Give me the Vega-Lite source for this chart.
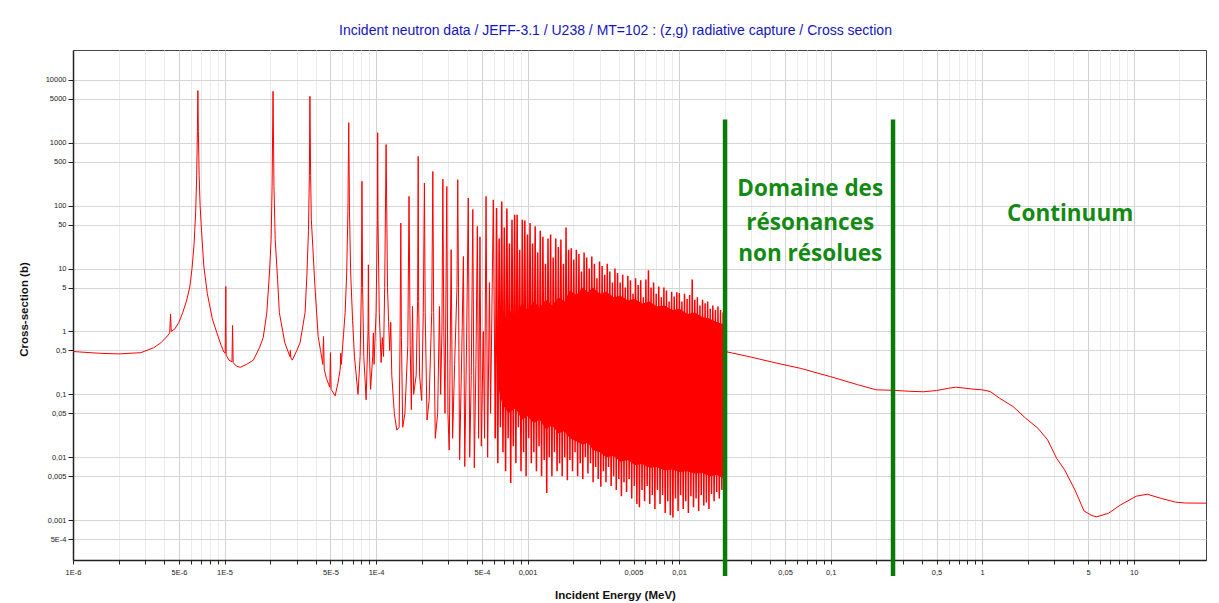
{
"$schema": "https://vega.github.io/schema/vega-lite/v6.json",
"width": 1133, "height": 510,
"autosize": {"type": "none"},
"padding": {"left": 73, "top": 50, "right": 13, "bottom": 43},
"background": "white",
"title": {"text": "Incident neutron data / JEFF-3.1 / U238 / MT=102 : (z,g) radiative capture / Cross section", "font": "Liberation Sans", "fontSize": 14, "fontWeight": "normal", "color": "#1414c0", "anchor": "middle", "dx": -24, "dy": 13, "offset": 14, "baseline": "alphabetic"},
"config": {"view": {"stroke": "#444", "strokeWidth": 1}},
"datasets": {
"band": [
{"e":6.3e-4,"s":0.15,"s2":0.4},{"e":6.8e-4,"s":0.07,"s2":1.2},{"e":7.5e-4,"s":0.05,"s2":2.2},{"e":8.3e-4,"s":0.06,"s2":1.8},{"e":9.2e-4,"s":0.04,"s2":2.8},{"e":1.0e-3,"s":0.045,"s2":2.2},{"e":1.1e-3,"s":0.035,"s2":3},{"e":1.2e-3,"s":0.04,"s2":2.4},{"e":1.32e-3,"s":0.028,"s2":3.2},{"e":1.45e-3,"s":0.032,"s2":2.6},{"e":1.6e-3,"s":0.024,"s2":3.5},{"e":1.75e-3,"s":0.026,"s2":3},{"e":1.9e-3,"s":0.02,"s2":4.5},{"e":2.1e-3,"s":0.018,"s2":3.8},{"e":2.3e-3,"s":0.016,"s2":5},{"e":2.5e-3,"s":0.017,"s2":4.2},{"e":2.7e-3,"s":0.013,"s2":5},{"e":3.0e-3,"s":0.012,"s2":4},{"e":3.3e-3,"s":0.01,"s2":4.3},{"e":3.7e-3,"s":0.0105,"s2":3.5},{"e":4.1e-3,"s":0.0085,"s2":3.7},{"e":4.6e-3,"s":0.009,"s2":3.1},{"e":5.1e-3,"s":0.0075,"s2":3.3},{"e":5.7e-3,"s":0.0078,"s2":2.8},{"e":6.4e-3,"s":0.0068,"s2":3},{"e":7.1e-3,"s":0.007,"s2":2.5},{"e":8.0e-3,"s":0.0062,"s2":2.6},{"e":9.0e-3,"s":0.0064,"s2":2.2},{"e":0.0101,"s":0.0058,"s2":2.3},{"e":0.0113,"s":0.006,"s2":1.9},{"e":0.0127,"s":0.0055,"s2":2.0},{"e":0.0142,"s":0.0056,"s2":1.7},{"e":0.016,"s":0.005,"s2":1.6},{"e":0.0178,"s":0.0052,"s2":1.4},{"e":0.0198,"s":0.0045,"s2":1.3}
],
"rules": [{"e":0.0201,"s":1.29e-4,"s2":2350},{"e":0.258,"s":1.29e-4,"s2":2350}],
"notes": [
{"e":0.0733,"s":141,"t":"Domaine des"},{"e":0.0733,"s":41.6,"t":"résonances"},{"e":0.0733,"s":13.0,"t":"non résolues"},{"e":3.81,"s":57.9,"t":"Continuum"}
],
"curve": [
{"e":1e-6,"s":0.48},{"e":1.5e-6,"s":0.45},{"e":2e-6,"s":0.44},{"e":2.8e-6,"s":0.46},{"e":3.4e-6,"s":0.55},{"e":3.8e-6,"s":0.66},{"e":4.2e-6,"s":0.85},{"e":4.35e-6,"s":0.95},{"e":4.4e-6,"s":1.9},{"e":4.45e-6,"s":1.0},{"e":4.7e-6,"s":1.1},{"e":5.0e-6,"s":1.4},{"e":5.3e-6,"s":2.0},{"e":5.6e-6,"s":3.0},{"e":5.9e-6,"s":5.1},{"e":6.1e-6,"s":10},{"e":6.3e-6,"s":25},{"e":6.45e-6,"s":80},{"e":6.55e-6,"s":300},{"e":6.62e-6,"s":1500},{"e":6.67e-6,"s":6800},{"e":6.72e-6,"s":1500},{"e":6.8e-6,"s":300},{"e":6.9e-6,"s":100},{"e":7.05e-6,"s":40},{"e":7.3e-6,"s":11},{"e":7.7e-6,"s":4},{"e":8.3e-6,"s":1.6},{"e":8.9e-6,"s":0.95},{"e":9.5e-6,"s":0.6},{"e":9.9e-6,"s":0.47},{"e":1.01e-5,"s":0.45},{"e":1.02e-5,"s":5.2},{"e":1.025e-5,"s":0.42},{"e":1.07e-5,"s":0.35},{"e":1.12e-5,"s":0.33},{"e":1.13e-5,"s":1.25},{"e":1.14e-5,"s":0.32},{"e":1.2e-5,"s":0.28},{"e":1.27e-5,"s":0.27},{"e":1.4e-5,"s":0.3},{"e":1.55e-5,"s":0.35},{"e":1.7e-5,"s":0.55},{"e":1.8e-5,"s":0.8},{"e":1.9e-5,"s":1.96},{"e":1.98e-5,"s":8.5},{"e":2.03e-5,"s":29},{"e":2.06e-5,"s":200},{"e":2.09e-5,"s":6600},{"e":2.12e-5,"s":200},{"e":2.16e-5,"s":29},{"e":2.24e-5,"s":6.7},{"e":2.3e-5,"s":2},{"e":2.5e-5,"s":0.66},{"e":2.7e-5,"s":0.4},{"e":2.72e-5,"s":0.5},{"e":2.74e-5,"s":0.38},{"e":2.8e-5,"s":0.35},{"e":3.0e-5,"s":0.5},{"e":3.15e-5,"s":0.66},{"e":3.4e-5,"s":2},{"e":3.5e-5,"s":8.5},{"e":3.58e-5,"s":40},{"e":3.63e-5,"s":300},{"e":3.66e-5,"s":5500},{"e":3.7e-5,"s":300},{"e":3.74e-5,"s":60},{"e":3.95e-5,"s":5.2},{"e":4.15e-5,"s":0.83},{"e":4.3e-5,"s":0.5},{"e":4.45e-5,"s":0.3},{"e":4.5e-5,"s":0.83},{"e":4.55e-5,"s":0.25},{"e":4.7e-5,"s":0.18},{"e":4.95e-5,"s":0.13},{"e":5.0e-5,"s":0.46},{"e":5.05e-5,"s":0.12},{"e":5.37e-5,"s":0.095},{"e":5.6e-5,"s":0.15},{"e":5.8e-5,"s":0.25},{"e":5.85e-5,"s":0.45},{"e":5.9e-5,"s":0.3},{"e":6.1e-5,"s":0.9},{"e":6.25e-5,"s":2},{"e":6.4e-5,"s":8.5},{"e":6.52e-5,"s":80},{"e":6.6e-5,"s":2100},{"e":6.68e-5,"s":80},{"e":6.8e-5,"s":8.5},{"e":7.0e-5,"s":1.5},{"e":7.2e-5,"s":0.4},{"e":7.6e-5,"s":0.1},{"e":7.85e-5,"s":0.4},{"e":8.0e-5,"s":5},{"e":8.07e-5,"s":245},{"e":8.15e-5,"s":5},{"e":8.3e-5,"s":0.4},{"e":8.6e-5,"s":0.082},{"e":8.85e-5,"s":1},{"e":8.9e-5,"s":11.5},{"e":8.95e-5,"s":1},{"e":9.2e-5,"s":0.12},{"e":9.5e-5,"s":0.4},{"e":9.6e-5,"s":0.95},{"e":9.7e-5,"s":0.3},{"e":1.0e-4,"s":2},{"e":1.02e-4,"s":60},{"e":1.025e-4,"s":1450},{"e":1.03e-4,"s":60},{"e":1.05e-4,"s":2},{"e":1.08e-4,"s":0.32},{"e":1.1e-4,"s":0.8},{"e":1.12e-4,"s":0.4},{"e":1.14e-4,"s":5},{"e":1.165e-4,"s":940},{"e":1.19e-4,"s":5},{"e":1.21e-4,"s":1.44},{"e":1.23e-4,"s":0.5},{"e":1.25e-4,"s":1.4},{"e":1.27e-4,"s":0.2},{"e":1.32e-4,"s":0.05},{"e":1.37e-4,"s":0.027},{"e":1.42e-4,"s":0.03},{"e":1.44e-4,"s":0.8},{"e":1.457e-4,"s":53},{"e":1.47e-4,"s":0.8},{"e":1.5e-4,"s":0.03},{"e":1.55e-4,"s":0.05},{"e":1.62e-4,"s":0.6},{"e":1.65e-4,"s":141},{"e":1.68e-4,"s":0.6},{"e":1.71e-4,"s":0.057},{"e":1.74e-4,"s":2.5},{"e":1.77e-4,"s":0.1},{"e":1.84e-4,"s":0.2},{"e":1.88e-4,"s":3},{"e":1.897e-4,"s":610},{"e":1.91e-4,"s":3},{"e":1.94e-4,"s":0.19},{"e":2.0e-4,"s":0.08},{"e":2.05e-4,"s":2},{"e":2.085e-4,"s":230},{"e":2.11e-4,"s":2},{"e":2.17e-4,"s":0.039},{"e":2.24e-4,"s":0.08},{"e":2.33e-4,"s":2},{"e":2.37e-4,"s":350},{"e":2.4e-4,"s":2},{"e":2.46e-4,"s":0.02},{"e":2.55e-4,"s":0.05},{"e":2.62e-4,"s":2.5},{"e":2.67e-4,"s":0.1},{"e":2.72e-4,"s":1},{"e":2.76e-4,"s":265},{"e":2.8e-4,"s":1},{"e":2.85e-4,"s":0.05},{"e":2.93e-4,"s":203},{"e":2.98e-4,"s":0.05},{"e":3.04e-4,"s":0.013},{"e":3.13e-4,"s":20},{"e":3.2e-4,"s":0.02},{"e":3.3e-4,"s":0.3},{"e":3.42e-4,"s":5},{"e":3.46e-4,"s":260},{"e":3.5e-4,"s":5},{"e":3.56e-4,"s":0.0091},{"e":3.68e-4,"s":0.5},{"e":3.77e-4,"s":15.6},{"e":3.85e-4,"s":0.0071},{"e":3.95e-4,"s":0.5},{"e":4.06e-4,"s":133},{"e":4.15e-4,"s":0.01},{"e":4.25e-4,"s":0.2},{"e":4.35e-4,"s":87},{"e":4.45e-4,"s":0.0068},{"e":4.56e-4,"s":0.3},{"e":4.66e-4,"s":47},{"e":4.75e-4,"s":0.02},{"e":4.85e-4,"s":32},{"e":4.95e-4,"s":0.015},{"e":5.1e-4,"s":1},{"e":5.2e-4,"s":0.02},{"e":5.32e-4,"s":141},{"e":5.45e-4,"s":0.01},{"e":5.6e-4,"s":6},{"e":5.7e-4,"s":0.05},{"e":5.94e-4,"s":124},{"e":6.12e-4,"s":0.02}
],
"tail": [
{"e":1.9800e-2,"s":0.0035},{"e":0.0202,"s":0.48},{"e":0.03,"s":0.39},{"e":0.045,"s":0.31},{"e":0.063,"s":0.26},{"e":0.1,"s":0.191},{"e":0.15,"s":0.143},{"e":0.2,"s":0.118},{"e":0.26,"s":0.116},{"e":0.33,"s":0.112},{"e":0.41,"s":0.11},{"e":0.5,"s":0.115},{"e":0.6,"s":0.125},{"e":0.67,"s":0.13},{"e":0.78,"s":0.125},{"e":0.9,"s":0.12},{"e":1.0,"s":0.118},{"e":1.13,"s":0.111},{"e":1.3,"s":0.087},{"e":1.6,"s":0.064},{"e":1.93,"s":0.042},{"e":2.33,"s":0.029},{"e":2.7,"s":0.019},{"e":3.1,"s":0.0096},{"e":3.5,"s":0.0063},{"e":4.1,"s":0.003},{"e":4.7,"s":0.0014},{"e":5.3,"s":0.00118},{"e":5.7,"s":0.00113},{"e":6.8,"s":0.00128},{"e":8.2,"s":0.00175},{"e":10.4,"s":0.0024},{"e":12.3,"s":0.00258},{"e":15.3,"s":0.0022},{"e":18.9,"s":0.00193},{"e":22,"s":0.00187},{"e":30,"s":0.00186}
],
"forest": [
{"e":6.12e-4,"s":0.02},{"e":6.24e-4,"s":92},{"e":6.36e-4,"s":0.008},{"e":6.49e-4,"s":30},{"e":6.62e-4,"s":0.03},{"e":6.75e-4,"s":117},{"e":6.88e-4,"s":0.012},{"e":7.02e-4,"s":45},{"e":7.16e-4,"s":0.006},{"e":7.30e-4,"s":90},{"e":7.44e-4,"s":0.02},{"e":7.59e-4,"s":25},{"e":7.74e-4,"s":0.0039},{"e":7.89e-4,"s":60},{"e":8.05e-4,"s":0.015},{"e":8.21e-4,"s":72},{"e":8.37e-4,"s":0.008},{"e":8.53e-4,"s":72},{"e":8.70e-4,"s":0.03},{"e":8.87e-4,"s":20},{"e":9.05e-4,"s":0.006},{"e":9.23e-4,"s":60},{"e":9.41e-4,"s":0.012},{"e":9.59e-4,"s":58},{"e":9.78e-4,"s":0.005},{"e":9.98e-4,"s":35},{"e":1.017e-3,"s":0.02},{"e":1.038e-3,"s":53},{"e":1.058e-3,"s":0.008},{"e":1.079e-3,"s":25},{"e":1.100e-3,"s":0.012},{"e":1.122e-3,"s":47},{"e":1.144e-3,"s":0.006},{"e":1.167e-3,"s":18},{"e":1.190e-3,"s":0.015},{"e":1.213e-3,"s":40},{"e":1.237e-3,"s":0.005},{"e":1.262e-3,"s":32},{"e":1.287e-3,"s":0.009},{"e":1.312e-3,"s":12},{"e":1.338e-3,"s":0.0027},{"e":1.364e-3,"s":30},{"e":1.391e-3,"s":0.01},{"e":1.419e-3,"s":35},{"e":1.447e-3,"s":0.005},{"e":1.475e-3,"s":15},{"e":1.504e-3,"s":0.012},{"e":1.534e-3,"s":30},{"e":1.565e-3,"s":0.006},{"e":1.596e-3,"s":22},{"e":1.627e-3,"s":0.008},{"e":1.659e-3,"s":29},{"e":1.692e-3,"s":0.005},{"e":1.725e-3,"s":12},{"e":1.760e-3,"s":0.01},{"e":1.794e-3,"s":45},{"e":1.830e-3,"s":0.0043},{"e":1.866e-3,"s":20},{"e":1.903e-3,"s":0.009},{"e":1.940e-3,"s":21},{"e":1.979e-3,"s":0.006},{"e":2.018e-3,"s":14},{"e":2.058e-3,"s":0.012},{"e":2.098e-3,"s":20},{"e":2.140e-3,"s":0.005},{"e":2.182e-3,"s":17},{"e":2.225e-3,"s":0.008},{"e":2.269e-3,"s":9},{"e":2.314e-3,"s":0.0045},{"e":2.360e-3,"s":18},{"e":2.406e-3,"s":0.01},{"e":2.454e-3,"s":15},{"e":2.502e-3,"s":0.0055},{"e":2.552e-3,"s":10},{"e":2.602e-3,"s":0.008},{"e":2.653e-3,"s":15.6},{"e":2.706e-3,"s":0.004},{"e":2.759e-3,"s":12},{"e":2.814e-3,"s":0.007},{"e":2.869e-3,"s":7},{"e":2.926e-3,"s":0.0045},{"e":2.984e-3,"s":13},{"e":3.043e-3,"s":0.0034},{"e":3.103e-3,"s":11},{"e":3.164e-3,"s":0.006},{"e":3.227e-3,"s":8},{"e":3.291e-3,"s":0.004},{"e":3.356e-3,"s":12},{"e":3.422e-3,"s":0.007},{"e":3.489e-3,"s":9},{"e":3.559e-3,"s":0.0035},{"e":3.629e-3,"s":6},{"e":3.700e-3,"s":0.005},{"e":3.773e-3,"s":10},{"e":3.848e-3,"s":0.003},{"e":3.924e-3,"s":8.5},{"e":4.002e-3,"s":0.0045},{"e":4.081e-3,"s":6},{"e":4.161e-3,"s":0.0024},{"e":4.243e-3,"s":8},{"e":4.328e-3,"s":0.004},{"e":4.413e-3,"s":5},{"e":4.500e-3,"s":0.0028},{"e":4.589e-3,"s":7.7},{"e":4.680e-3,"s":0.0045},{"e":4.772e-3,"s":6.5},{"e":4.866e-3,"s":0.0022},{"e":4.962e-3,"s":4},{"e":5.061e-3,"s":0.0035},{"e":5.160e-3,"s":7},{"e":5.263e-3,"s":0.0018},{"e":5.366e-3,"s":5.5},{"e":5.472e-3,"s":0.0016},{"e":5.580e-3,"s":6.5},{"e":5.691e-3,"s":0.003},{"e":5.803e-3,"s":3.5},{"e":5.918e-3,"s":0.002},{"e":6.035e-3,"s":6.7},{"e":6.154e-3,"s":0.0035},{"e":6.275e-3,"s":9.4},{"e":6.400e-3,"s":0.0018},{"e":6.526e-3,"s":5},{"e":6.655e-3,"s":0.0025},{"e":6.786e-3,"s":6},{"e":6.921e-3,"s":0.0015},{"e":7.057e-3,"s":4},{"e":7.197e-3,"s":0.003},{"e":7.339e-3,"s":5.2},{"e":7.484e-3,"s":0.0018},{"e":7.631e-3,"s":3.5},{"e":7.783e-3,"s":0.0025},{"e":7.936e-3,"s":5},{"e":8.093e-3,"s":0.0013},{"e":8.253e-3,"s":4.5},{"e":8.416e-3,"s":0.002},{"e":8.582e-3,"s":3},{"e":8.752e-3,"s":0.0012},{"e":8.924e-3,"s":4.3},{"e":9.101e-3,"s":0.0011},{"e":9.280e-3,"s":3.6},{"e":9.464e-3,"s":0.0022},{"e":9.651e-3,"s":4.2},{"e":9.842e-3,"s":0.0014},{"e":1.0036e-2,"s":4.1},{"e":1.0234e-2,"s":0.0025},{"e":1.0436e-2,"s":3},{"e":1.0643e-2,"s":0.0015},{"e":1.0853e-2,"s":4},{"e":1.1067e-2,"s":0.002},{"e":1.1286e-2,"s":3.3},{"e":1.1509e-2,"s":0.0013},{"e":1.1736e-2,"s":3.8},{"e":1.1968e-2,"s":0.0024},{"e":1.2204e-2,"s":6.7},{"e":1.2446e-2,"s":0.0016},{"e":1.2691e-2,"s":3.2},{"e":1.2942e-2,"s":0.0022},{"e":1.3198e-2,"s":3.5},{"e":1.3459e-2,"s":0.0014},{"e":1.3724e-2,"s":2.6},{"e":1.3996e-2,"s":0.0025},{"e":1.4272e-2,"s":3.2},{"e":1.4554e-2,"s":0.0017},{"e":1.4841e-2,"s":2.8},{"e":1.5135e-2,"s":0.0019},{"e":1.5434e-2,"s":3.0},{"e":1.5739e-2,"s":0.0015},{"e":1.6049e-2,"s":2.3},{"e":1.6367e-2,"s":0.0026},{"e":1.6690e-2,"s":2.6},{"e":1.7020e-2,"s":0.002},{"e":1.7356e-2,"s":2.2},{"e":1.7700e-2,"s":0.0028},{"e":1.8048e-2,"s":2.5},{"e":1.8405e-2,"s":0.0022},{"e":1.8768e-2,"s":2.2},{"e":1.9140e-2,"s":0.003},{"e":1.9517e-2,"s":2.0},{"e":1.9800e-2,"s":0.0035}
]
},
"encoding": {
"x": {"field": "e", "type": "quantitative", "scale": {"type": "log", "domain": [1e-6, 30], "nice": false},
 "axis": {"title": "Incident Energy (MeV)",
  "values": [0.000001,0.000002,0.000003,0.000004,0.000005,0.000006,0.000007,0.000008,0.000009,0.00001,0.00002,0.00003,0.00004,0.00005,0.00006,0.00007,0.00008,0.00009,0.0001,0.0002,0.0003,0.0004,0.0005,0.0006,0.0007,0.0008,0.0009,0.001,0.002,0.003,0.004,0.005,0.006,0.007,0.008,0.009,0.01,0.02,0.03,0.04,0.05,0.06,0.07,0.08,0.09,0.1,0.2,0.3,0.4,0.5,0.6,0.7,0.8,0.9,1,2,3,4,5,6,7,8,9,10,20],
  "labelExpr": "indexof([0.000001,0.000005,0.00001,0.00005,0.0001,0.0005,0.001,0.005,0.01,0.05,0.1,0.5,1,5,10], datum.value) < 0 ? '' : datum.value < 0.001 ? upper(format(datum.value, '.0e')) : datum.value < 1 ? replace(format(datum.value, '~g'), '.', ',') : format(datum.value, 'd')",
  "labelFont": "Liberation Sans", "labelFontSize": 7.5, "labelColor": "#222", "labelPadding": 4, "labelFlush": false, "labelOverlap": false,
  "tickSize": 4, "tickColor": "#222", "domainColor": "#222", "domainWidth": 1.5,
  "grid": true, "gridWidth": 1,
  "gridColor": {"condition": {"test": "indexof([0.000001,0.000005,0.00001,0.00005,0.0001,0.0005,0.001,0.005,0.01,0.05,0.1,0.5,1,5,10], datum.value) >= 0", "value": "#d2d2d2"}, "value": "#ececec"},
  "titleFont": "Liberation Sans", "titleFontSize": 11.5, "titleFontWeight": "bold", "titleColor": "#111", "titleX": 542, "titleY": 38, "titleBaseline": "alphabetic", "titleAlign": "center"}},
"y": {"field": "s", "type": "quantitative", "scale": {"type": "log", "domain": [2.32e-4, 30000], "nice": false},
 "axis": {"title": "Cross-section (b)",
  "values": [0.0005,0.001,0.005,0.01,0.05,0.1,0.5,1,5,10,50,100,500,1000,5000,10000],
  "labelExpr": "datum.value < 0.001 ? upper(format(datum.value, '.0e')) : datum.value < 1 ? replace(format(datum.value, '~g'), '.', ',') : format(datum.value, 'd')",
  "labelFont": "Liberation Sans", "labelFontSize": 7.5, "labelColor": "#222", "labelPadding": 2, "labelFlush": false, "labelOverlap": false,
  "tickSize": 5, "tickColor": "#222", "domainColor": "#222", "domainWidth": 1.5,
  "grid": true, "gridWidth": 1.2, "gridColor": "#d6d6d6",
  "titleFont": "Liberation Sans", "titleFontSize": 11.5, "titleFontWeight": "bold", "titleColor": "#111", "titleX": -46, "titleY": 259, "titleAngle": 270, "titleBaseline": "alphabetic", "titleAlign": "center"}}
},
"layer": [
{"data": {"name": "band"}, "mark": {"type": "area", "color": "#ff0000", "opacity": 1, "clip": true}, "encoding": {"y2": {"field": "s2"}}},
{"data": {"name": "forest"}, "mark": {"type": "line", "color": "#ff0000", "strokeWidth": 1.5, "clip": true}, "encoding": {}},
{"data": {"name": "curve"}, "mark": {"type": "line", "color": "#ff0000", "strokeWidth": 1, "clip": true}, "encoding": {}},
{"data": {"name": "tail"}, "mark": {"type": "line", "color": "#ff0000", "strokeWidth": 1, "clip": true}, "encoding": {}},
{"data": {"name": "rules"}, "mark": {"type": "rule", "color": "#0a7a0a", "strokeWidth": 4.5}, "encoding": {"y2": {"field": "s2"}}},
{"data": {"name": "notes"}, "mark": {"type": "text", "font": "Open Sans", "fontWeight": "bold", "fontSize": 22.5, "color": "#138a13", "align": "center", "baseline": "alphabetic"}, "encoding": {"text": {"field": "t"}}}
]
}
